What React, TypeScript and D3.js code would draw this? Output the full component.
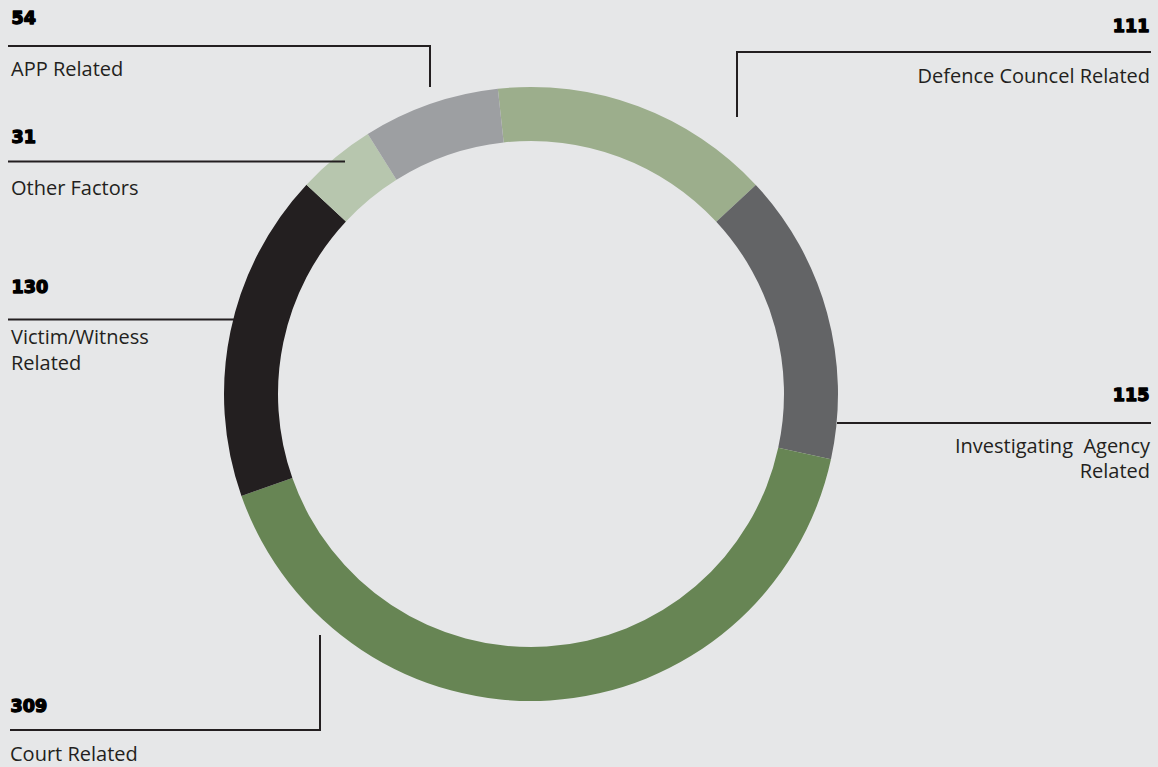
import React from "react";
import * as d3 from "d3";

const categories = [
  "Defence Councel Related",
  "Investigating Agency Related",
  "Court Related",
  "Victim/Witness Related",
  "Other Factors",
  "APP Related",
];
const values = [111, 115, 309, 130, 31, 54];
const colors = ["#9cae8c", "#636466", "#678554", "#231f20", "#b7c6ae", "#9d9fa2"];

const W = 1158;
const H = 767;
const CX = 531;
const CY = 394;
const R_OUT = 307;
const R_IN = 253;
const START_DEG = -6.2;

const INK = "#231f20";
const NUM_FONT = "'DejaVu Sans', sans-serif";
const LBL_FONT = "'Open Sans', sans-serif";

type Ann = {
  value: string;
  lines: string[];
  anchor: "start" | "end";
  textX: number;
  numY: number;
  lblY: number[];
  path: [number, number][];
};

const annotations: Ann[] = [
  { value: "54", lines: ["APP Related"], anchor: "start", textX: 11, numY: 24, lblY: [76], path: [[8, 46], [430, 46], [430, 87]] },
  { value: "31", lines: ["Other Factors"], anchor: "start", textX: 11, numY: 143, lblY: [195], path: [[8, 161.5], [345, 161.5]] },
  { value: "130", lines: ["Victim/Witness", "Related"], anchor: "start", textX: 11, numY: 293, lblY: [344, 370], path: [[8, 319.5], [234, 319.5]] },
  { value: "111", lines: ["Defence Councel Related"], anchor: "end", textX: 1150, numY: 32, lblY: [83], path: [[737, 117], [737, 52], [1151, 52]] },
  { value: "115", lines: ["Investigating  Agency", "Related"], anchor: "end", textX: 1150, numY: 401, lblY: [453, 478], path: [[837, 423], [1151, 423]] },
  { value: "309", lines: ["Court Related"], anchor: "start", textX: 10, numY: 712, lblY: [761], path: [[320, 635], [320, 730], [10, 730]] },
];

export default function App() {
  const pie = d3
    .pie<number>()
    .sort(null)
    .startAngle((START_DEG * Math.PI) / 180)
    .endAngle((START_DEG * Math.PI) / 180 + 2 * Math.PI);
  const arcs = pie(values);
  const arc = d3.arc<d3.PieArcDatum<number>>().innerRadius(R_IN).outerRadius(R_OUT);
  const line = d3.line();

  return (
    <div style={{ position: "absolute", left: 0, top: 0, width: W, height: H, background: "#e6e7e8" }}>
      <svg width={W} height={H} style={{ display: "block" }}>
        <rect width={W} height={H} fill="#e6e7e8" />
        <g transform={`translate(${CX},${CY})`}>
          {arcs.map((a, i) => (
            <path key={categories[i]} d={arc(a) || ""} fill={colors[i]} />
          ))}
        </g>
        {annotations.map((an) => (
          <g key={an.value}>
            <path d={line(an.path) || ""} fill="none" stroke={INK} strokeWidth={2} />
            <text
              x={an.anchor === "end" ? an.textX - 0.6 : an.textX + 0.6}
              y={an.numY}
              textAnchor={an.anchor}
              fontFamily={NUM_FONT}
              fontWeight={700}
              fontSize={17.5}
              fill="#000"
              stroke="#000"
              strokeWidth={1.4}
              strokeLinejoin="round"
            >
              {an.value}
            </text>
            {an.lines.map((l, j) => (
              <text
                key={j}
                x={an.textX}
                y={an.lblY[j]}
                textAnchor={an.anchor}
                fontFamily={LBL_FONT}
                fontSize={20}
                fill={INK}
                style={{ whiteSpace: "pre" }}
              >
                {l}
              </text>
            ))}
          </g>
        ))}
      </svg>
    </div>
  );
}
